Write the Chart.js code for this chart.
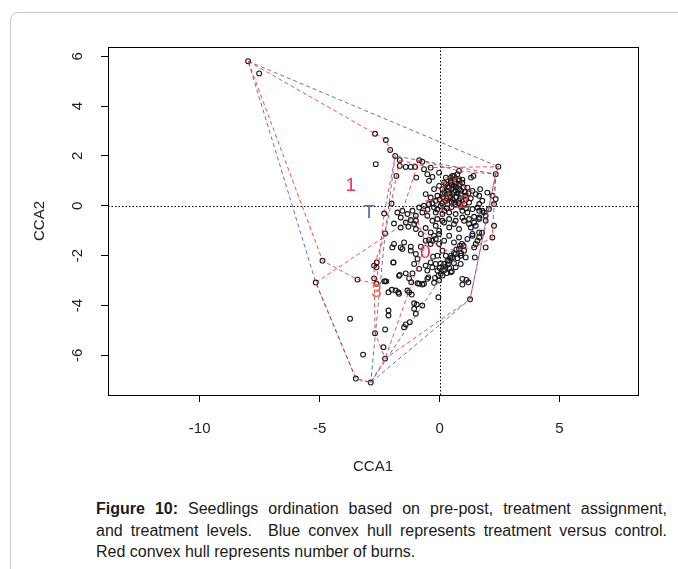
<!DOCTYPE html>
<html>
<head>
<meta charset="utf-8">
<script src="https://cdn.jsdelivr.net/npm/chart.js@4.4.0/dist/chart.umd.min.js"></script>
<style>
body { margin:0; background:#fff; width:678px; height:569px; overflow:hidden; position:relative; font-family:"Liberation Sans", Arial, sans-serif; }
#card { position:absolute; left:10px; top:12px; width:720px; height:620px; border:1px solid #c8c8c8; border-radius:8px; }
#chart { position:absolute; left:0; top:0; }
#caption { position:absolute; left:96px; top:498px; width:571px; font-size:16px; line-height:21.5px; color:#1a1a1a; }
#caption div { text-align:justify; text-align-last:justify; white-space:nowrap; }
#caption div.last { text-align-last:left; }
</style>
</head>
<body>
<div id="card"></div>
<canvas id="chart" width="678" height="490"></canvas>
<div id="caption">
<div><b>Figure&nbsp;10:</b> Seedlings ordination based on pre-post, treatment assignment,</div>
<div>and treatment levels.&nbsp; Blue convex hull represents treatment versus control.</div>
<div class="last">Red convex hull represents number of burns.</div>
</div>
<script>
// axis settings
const xTicks = [-10, -5, 0, 5];
const yTicks = [-6, -4, -2, 0, 2, 4, 6];
const xRange = [-13.82, 8.27];
const yRange = [-7.59, 6.37];

// site scores (CCA1, CCA2)
const outerPts = [
  [-7.98,5.8],[-7.52,5.31],[-2.69,2.89],[-2.24,2.64],[-2.06,2.24],[-2.66,1.67],
  [-4.88,-2.2],[-5.16,-3.08],[-3.42,-2.96],[-3.73,-4.53],[-3.19,-5.97],[-3.49,-6.93],
  [-2.87,-7.09],[-2.69,-5.11],[-2.27,-4.96],[-2.34,-5.67],[-2.27,-6.13],
  [2.45,1.57],[2.34,1.27],[1.27,-3.75]
];
const upperPts = [
  [-1.85,2.0],[-1.66,1.83],[-1.66,1.6],[-1.41,1.56],[-1.2,1.56],[-1.02,1.56],[-0.85,1.83],
  [-0.72,1.77],[-0.37,1.53],[-0.65,1.47],[-1.8,1.2],[-0.97,1.13],[-0.51,1.27],[-0.3,1.16],
  [-0.44,1.0],[-0.02,1.33],[0.53,1.2],[0.74,1.27],[0.81,1.4],[1.41,1.2],[1.31,1.13],[0.47,1.13]
];
const leftPts = [
  [-2.0,0.09],[-2.31,-0.31],[-1.76,-0.27],[-1.55,-0.2],[-1.34,-0.33],[-1.13,-0.2],[-0.99,-0.4],
  [-1.62,-0.47],[-1.41,-0.67],[-1.2,-0.57],[-0.99,-0.6],[-1.9,-0.71],[-1.62,-0.87],[-1.3,-0.84],
  [-1.06,-0.73],[-2.27,-1.11],[-1.9,-1.53],[-1.97,-1.67],[-1.62,-1.67],[-1.48,-1.47],[-1.2,-1.64],
  [-1.55,-1.73],[-1.2,-1.8],[-0.99,-1.93],[-0.92,-2.13]
];
const rightPts = [
  [1.69,0.67],[1.99,0.53],[2.2,0.4],[2.34,0.27],[2.27,0.07],[1.65,-0.47],[1.78,-0.2],[1.92,-0.6],
  [1.58,-0.07],[2.27,-0.8],[2.2,-1.27],[1.92,-1.67],[1.51,-1.53],[1.65,-1.27],[1.77,-1.08]
];
const corePts = [
  [0.26,1.13],[0.47,1.0],[0.6,1.2],[0.81,1.07],[0.26,0.87],[0.12,0.67],[0.4,0.73],[0.67,0.87],
  [0.95,0.93],[1.16,0.73],[1.37,0.6],[1.51,0.47],[1.65,0.4],[1.78,0.2],[1.65,0.07],[1.23,0.13],
  [1.02,0.07],[0.81,0.2],[0.6,0.13],[0.33,0.07],[0.05,0.0],[-0.23,-0.07],[-0.44,0.07],[-0.65,0.0],
  [-0.85,-0.07],[-0.72,-0.27],[-0.51,-0.4],[-0.16,-0.27],[0.12,-0.33],[0.4,-0.27],[0.67,-0.33],
  [0.95,-0.2],[1.16,-0.27],[1.37,-0.13],[1.65,-0.2],[1.85,-0.27],[2.06,-0.13],[1.92,-0.4],
  [1.65,-0.53],[1.44,-0.44],[1.23,-0.53],[0.95,-0.47],[0.67,-0.6],[0.4,-0.53],[0.12,-0.6],
  [-0.09,-0.53],[-0.3,-0.6],[-0.58,0.47],[-0.37,0.33],[-0.09,0.4],[0.12,0.47],[0.33,0.6],
  [0.5,0.7],[0.67,0.6],[0.53,0.47],[0.88,0.47],[1.09,0.4],[0.81,0.67],[0.6,0.8],[0.47,0.93],
  [0.19,0.93],[-0.02,0.8],[-0.23,0.67],[-0.16,0.2],[-0.99,-0.93],[-0.78,-1.13],[-0.58,-0.89],
  [-0.37,-1.07],[-0.16,-0.8],[-0.02,-1.0],[0.19,-0.67],[0.4,-0.87],[0.6,-0.73],[0.81,-0.93],
  [1.02,-0.6],[1.23,-0.73],[1.44,-0.67],[1.37,-1.2],[0.81,-1.27],[0.6,-1.47],[0.4,-1.2],
  [0.19,-1.4],[-0.16,-1.33],[-0.37,-1.53],[-0.58,-1.4],[-0.78,-1.64],
  [0.3,0.3],[0.45,0.35],[0.55,0.25],[0.7,0.35],[0.85,0.3],[0.4,0.5],[0.6,0.55],[0.75,0.5],
  [0.9,0.6],[0.35,0.75],[0.7,0.75],[0.85,0.85],[1.0,0.75],[0.5,0.85],[0.65,0.95],[0.8,1.0],
  [0.95,1.05],[0.2,0.55],[0.25,0.2],[0.5,0.15],[0.65,0.05],[0.8,0.1],[1.1,0.25],[1.2,0.5],
  [1.05,0.55],[0.3,-0.1],[0.5,-0.05],[0.15,0.35],[0.0,0.25],[0.1,0.1],[0.9,-0.05],[1.3,0.3],
  [1.1,-0.1],[-0.3,0.1],[-0.5,-0.15],[-0.1,-0.15],[0.2,-0.2]
];
const lowerPts = [
  [-0.3,-1.4],[-0.23,-1.2],[-0.02,-1.53],[0.12,-1.8],[0.26,-2.0],[0.4,-2.2],[0.53,-2.07],
  [0.67,-1.93],[0.81,-1.73],[1.02,-1.8],[0.93,-1.53],[1.16,-1.33],[1.37,-1.13],[1.3,-0.87],
  [1.51,-0.8],[1.65,-1.07],[1.58,-1.4],[1.44,-1.67],[1.09,-2.07],[0.88,-2.33],[0.67,-2.47],
  [0.47,-2.67],[-0.44,-1.37],[-0.02,-1.13],[-0.27,-2.04],[-0.09,-2.0],[0.47,-2.0],[0.88,-2.0],
  [1.47,-2.07],[-1.93,-2.27],[-1.66,-2.77],[-1.41,-2.71],[-1.13,-2.71],[-1.27,-2.91],[-1.18,-3.07],
  [-0.92,-3.11],[-0.72,-3.16],[-0.47,-2.87],[-0.23,-3.09],[-0.3,-2.47],[-0.09,-2.6],[0.05,-2.73],
  [0.23,-2.57],[0.4,-2.49],[0.51,-2.63],[0.05,-2.31],[0.19,-2.33],[0.33,-2.2],[-2.27,-3.03],
  [-2.13,-3.47],[-1.99,-3.37],[-1.83,-3.4],[-1.72,-3.47],[-1.27,-3.47],[-1.16,-3.56],[-1.06,-3.91],
  [-0.95,-3.96],[-0.72,-4.0],[-1.06,-4.13],[-0.05,-3.67],[0.95,-2.93],[1.12,-2.97],[1.2,-3.07],
  [0.95,-3.16],[-2.13,-4.2],[-2.13,-4.4],[-1.41,-4.76],[-1.24,-4.67],[-1.48,-4.87],[-2.73,-2.4],
  [-2.62,-2.27],[-2.63,-2.47],[-2.73,-2.91],[-2.63,-3.13],[-2.31,-3.03],[-2.22,-3.03],[-1.92,-2.27],
  [-0.85,-3.13],[-0.65,-3.13],[-0.51,-2.93],[-0.19,-2.89],[-0.02,-3.0],[0.12,-2.8],[-0.51,-2.6],
  [-0.16,-2.33],[-0.37,-2.27],[-0.58,-2.4],[-0.85,-2.53],[-1.06,-2.33],[-0.99,-4.33],[-1.69,-2.81],
  [-1.69,-3.53],[-1.34,-3.4],[0.85,-1.6],[0.7,-1.75],[0.6,-1.9],[0.45,-2.1],[0.35,-2.35],
  [0.25,-2.45],[0.15,-2.6],[0.0,-2.5],[-0.05,-2.8],[0.3,-2.7],[0.6,-2.3],[0.75,-2.1],[1.0,-1.6],[0.9,-1.9]
];

// convex hulls (closed)
const treatHull = [[-7.98,5.8],[2.45,1.57],[2.34,1.27],[1.27,-3.75],[-2.87,-7.09],[-3.49,-6.93],[-5.16,-3.08],[-7.98,5.8]];
const controlHull = [[-2.87,-7.09],[1.51,-0.8],[2.27,0.07],[2.34,1.27],[-1.85,2.0],[-2.27,-1.11],[-2.87,-7.09]];
const burn1Hull = [[-7.98,5.8],[-2.69,2.89],[-2.24,2.64],[-2.06,2.24],[-1.85,2.0],[-2.31,-0.31],[-2.63,-3.13],[-3.42,-2.96],[-4.88,-2.2],[-7.98,5.8]];
const burn3Hull = [[-5.16,-3.08],[-0.99,-0.4],[-0.58,-1.53],[-2.27,-6.13],[-2.87,-7.09],[-3.49,-6.93],[-5.16,-3.08]];
const burn0Hull = [[-1.66,1.83],[-0.37,1.53],[2.45,1.57],[2.34,1.27],[1.27,-3.75],[-2.27,-6.13],[-2.69,-5.11],[-2.73,-2.4],[-2.27,-1.11],[-1.66,1.83]];
const burn2Hull = [[-0.85,1.83],[0.81,1.4],[2.34,1.27],[2.27,0.07],[2.2,-1.27],[1.44,-1.67],[0.12,-1.8],[-1.2,-0.57],[-1.55,-0.2],[-0.85,1.83]];
const preHullA = [[0.26,1.13],[0.81,1.07],[1.2,0.5],[0.9,-0.05],[0.3,-0.1],[0.12,0.67],[0.26,1.13]];
const preHullB = [[-0.6,0.2],[0.2,0.3],[0.1,-0.4],[-0.5,-0.5],[-0.6,0.2]];
const preHullC = [[0.47,1.0],[1.37,0.6],[1.02,0.07],[0.33,0.07],[0.47,1.0]];

// group labels (centroids)
const groupNames = ["1", "T", "0", "3", "2"];
const groupX = [-3.7, -2.94, -0.6, -2.63, 1.02];
const groupY = [0.8, -0.27, -1.87, -3.43, 0.13];
const groupColors = ["#ee3366", "#4f73c6", "#e0305a", "#f26b50", "#e04050"];

function toXY(list) { return list.map(p => ({x: p[0], y: p[1]})); }

const allPts = [].concat(outerPts, upperPts, leftPts, rightPts, corePts, lowerPts);

function hullSet(list, color) {
  return {
    type: "line", data: toXY(list), borderColor: color, borderWidth: 1,
    borderDash: [4, 3], pointRadius: 0, fill: false, tension: 0, order: 1
  };
}

const rPlot = {
  id: "rPlot",
  beforeDatasetsDraw(chart) {
    const {ctx, chartArea: a, scales: {x, y}} = chart;
    ctx.save();
    ctx.strokeStyle = "#000";
    ctx.lineWidth = 1;
    ctx.setLineDash([1.5, 2]);
    const x0 = Math.round(x.getPixelForValue(0)) + 0.5;
    const y0 = Math.round(y.getPixelForValue(0)) + 0.5;
    ctx.beginPath();
    ctx.moveTo(x0, a.top); ctx.lineTo(x0, a.bottom);
    ctx.moveTo(a.left, y0); ctx.lineTo(a.right, y0);
    ctx.stroke();
    ctx.restore();
  },
  afterDatasetsDraw(chart) {
    const {ctx, scales: {x, y}} = chart;
    ctx.save();
    ctx.font = '19px "Liberation Sans", Arial, sans-serif';
    ctx.textAlign = "center";
    ctx.textBaseline = "middle";
    for (let i = 0; i < groupNames.length; i++) {
      ctx.fillStyle = groupColors[i];
      ctx.fillText(groupNames[i], x.getPixelForValue(groupX[i]), y.getPixelForValue(groupY[i]));
    }
    ctx.restore();
  },
  afterDraw(chart) {
    const {ctx, chartArea: a, scales: {y}} = chart;
    ctx.save();
    ctx.strokeStyle = "#000";
    ctx.lineWidth = 1;
    ctx.strokeRect(Math.round(a.left) + 0.5, Math.round(a.top) + 0.5, Math.round(a.right - a.left), Math.round(a.bottom - a.top));
    ctx.fillStyle = "#222";
    ctx.font = '15px "Liberation Sans", Arial, sans-serif';
    ctx.textAlign = "center";
    ctx.textBaseline = "middle";
    yTicks.forEach(v => {
      ctx.save();
      ctx.translate(78, y.getPixelForValue(v));
      ctx.rotate(-Math.PI / 2);
      ctx.fillText(String(v), 0, 0);
      ctx.restore();
    });
    ctx.restore();
  }
};

const red = "rgba(255,25,25,0.8)";
const blue = "rgba(60,90,190,0.85)";

new Chart(document.getElementById("chart"), {
  type: "scatter",
  data: {
    datasets: [
      {
        data: toXY(allPts), pointStyle: "circle", pointRadius: 2.4,
        borderColor: "#151515", backgroundColor: "rgba(0,0,0,0)", borderWidth: 1.1, order: 3
      },
      Object.assign(hullSet(treatHull, blue), {order: 2}),
      Object.assign(hullSet(controlHull, blue), {order: 2}),
      hullSet(burn1Hull, red),
      hullSet(burn3Hull, red),
      hullSet(burn0Hull, red),
      hullSet(burn2Hull, red),
      hullSet(preHullA, red),
      hullSet(preHullB, red),
      hullSet(preHullC, red)
    ]
  },
  options: {
    responsive: false,
    animation: false,
    layout: { padding: { left: 0, top: 47, right: 40, bottom: 0 } },
    plugins: { legend: { display: false }, tooltip: { enabled: false } },
    scales: {
      x: {
        type: "linear", min: xRange[0], max: xRange[1],
        afterBuildTicks: s => { s.ticks = xTicks.map(v => ({value: v})); },
        afterFit: s => { s.height = 490 - 395; },
        border: { display: false },
        grid: { drawOnChartArea: false, drawTicks: true, tickLength: 7, color: "#000" },
        ticks: { padding: 18, color: "#222", font: { family: "Liberation Sans", size: 15 }, callback: v => String(v) },
        title: { display: true, text: "CCA1", color: "#222", font: { family: "Liberation Sans", size: 15 }, padding: { top: 0, bottom: 14 } }
      },
      y: {
        type: "linear", min: yRange[0], max: yRange[1],
        afterBuildTicks: s => { s.ticks = yTicks.map(v => ({value: v})); },
        afterFit: s => { s.width = 108; },
        border: { display: false },
        grid: { drawOnChartArea: false, drawTicks: true, tickLength: 7, color: "#000" },
        ticks: { display: false },
        title: { display: true, text: "CCA2", color: "#222", font: { family: "Liberation Sans", size: 15 }, padding: { top: 31, bottom: 0 } }
      }
    }
  },
  plugins: [rPlot]
});
</script>
</body>
</html>
